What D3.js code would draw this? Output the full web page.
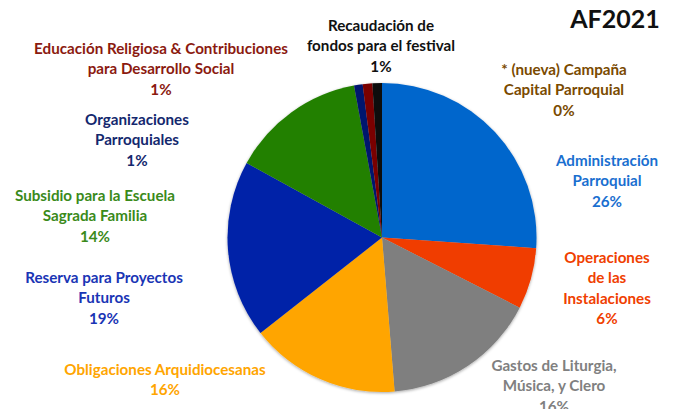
<!DOCTYPE html>
<html>
<head>
<meta charset="utf-8">
<script src="https://cdn.jsdelivr.net/npm/d3@7"></script>
<style>
  body { margin: 0; background: #fff; }
  svg { display: block; font-family: Lato, "Open Sans", sans-serif; font-weight: bold; }
</style>
</head>
<body>
<div id="chart"></div>
<script>
// categories in pie order, starting at 12 o'clock, clockwise
const categories = [
    "* (nueva) Campaña Capital Parroquial",
    "Administración Parroquial",
    "Operaciones de las Instalaciones",
    "Gastos de Liturgia, Música, y Clero",
    "Obligaciones Arquidiocesanas",
    "Reserva para Proyectos Futuros",
    "Subsidio para la Escuela Sagrada Familia",
    "Organizaciones Parroquiales",
    "Educación Religiosa & Contribuciones para Desarrollo Social",
    "Recaudación de fondos para el festival"
];
const values = [0, 26.1, 6.4, 16.2, 15.7, 18.6, 14.1, 0.9, 1.0, 1.0];
// label text split the way the chart wraps it
const labelLines = [
    ["* (nueva) Campaña", "Capital Parroquial"],
    ["Administración", "Parroquial"],
    ["Operaciones", "de las", "Instalaciones"],
    ["Gastos de Liturgia,", "Música, y Clero"],
    ["Obligaciones Arquidiocesanas"],
    ["Reserva para Proyectos", "Futuros"],
    ["Subsidio para la Escuela", "Sagrada Familia"],
    ["Organizaciones", "Parroquiales"],
    ["Educación Religiosa & Contribuciones", "para Desarrollo Social"],
    ["Recaudación de", "fondos para el festival"]
];
const title = "AF2021";

const sliceColors = ["#7f5000", "#0066cc", "#f03c00", "#7f7f7f", "#ffa500", "#0022a8", "#238000", "#00146e", "#7a0000", "#111111"];
const labelColors = ["#7a4a00", "#1a6fd0", "#f04000", "#808080", "#ffa500", "#1a35b5", "#3a8a1a", "#14286e", "#8b1a10", "#111111"];
// label block top-line centre positions (manually placed in the original)
const labelAnchor = [[564, 69], [607, 160], [607, 257], [554, 365], [165, 369], [104, 277], [95, 195], [137, 119], [161, 48], [381, 25]];

const W = 674, H = 409;
const cx = 382, cy = 237.5, r = 154.5;
const lineH = 20.3;

const svg = d3.select("#chart").append("svg").attr("width", W).attr("height", H);

const defs = svg.append("defs");
defs.append("filter").attr("id", "shadow").attr("x", "-10%").attr("y", "-10%").attr("width", "120%").attr("height", "120%")
    .append("feDropShadow").attr("dx", 0).attr("dy", 1).attr("stdDeviation", 1.6).attr("flood-color", "#000").attr("flood-opacity", 0.35);

const pie = d3.pie().sort(null).value(d => d)(values);
const arc = d3.arc().innerRadius(0).outerRadius(r);

const g = svg.append("g").attr("transform", `translate(${cx},${cy})`).attr("filter", "url(#shadow)");
g.selectAll("path").data(pie).enter().append("path")
    .attr("d", arc)
    .attr("fill", (d, i) => sliceColors[i]);

// labels
const lab = svg.append("g").attr("font-size", 15.2).attr("text-anchor", "middle");
categories.forEach((c, i) => {
    const [x, y] = labelAnchor[i];
    const t = lab.append("text").attr("fill", labelColors[i]).attr("dominant-baseline", "central");
    const lines = labelLines[i].concat([Math.round(values[i]) + "%"]);
    lines.forEach((s, k) => {
        t.append("tspan").attr("x", x).attr("y", y + k * lineH).text(s);
    });
});

svg.append("text").attr("x", 615).attr("y", 28).attr("text-anchor", "middle")
    .attr("font-size", 25).attr("fill", "#111").text(title);
</script>
</body>
</html>
